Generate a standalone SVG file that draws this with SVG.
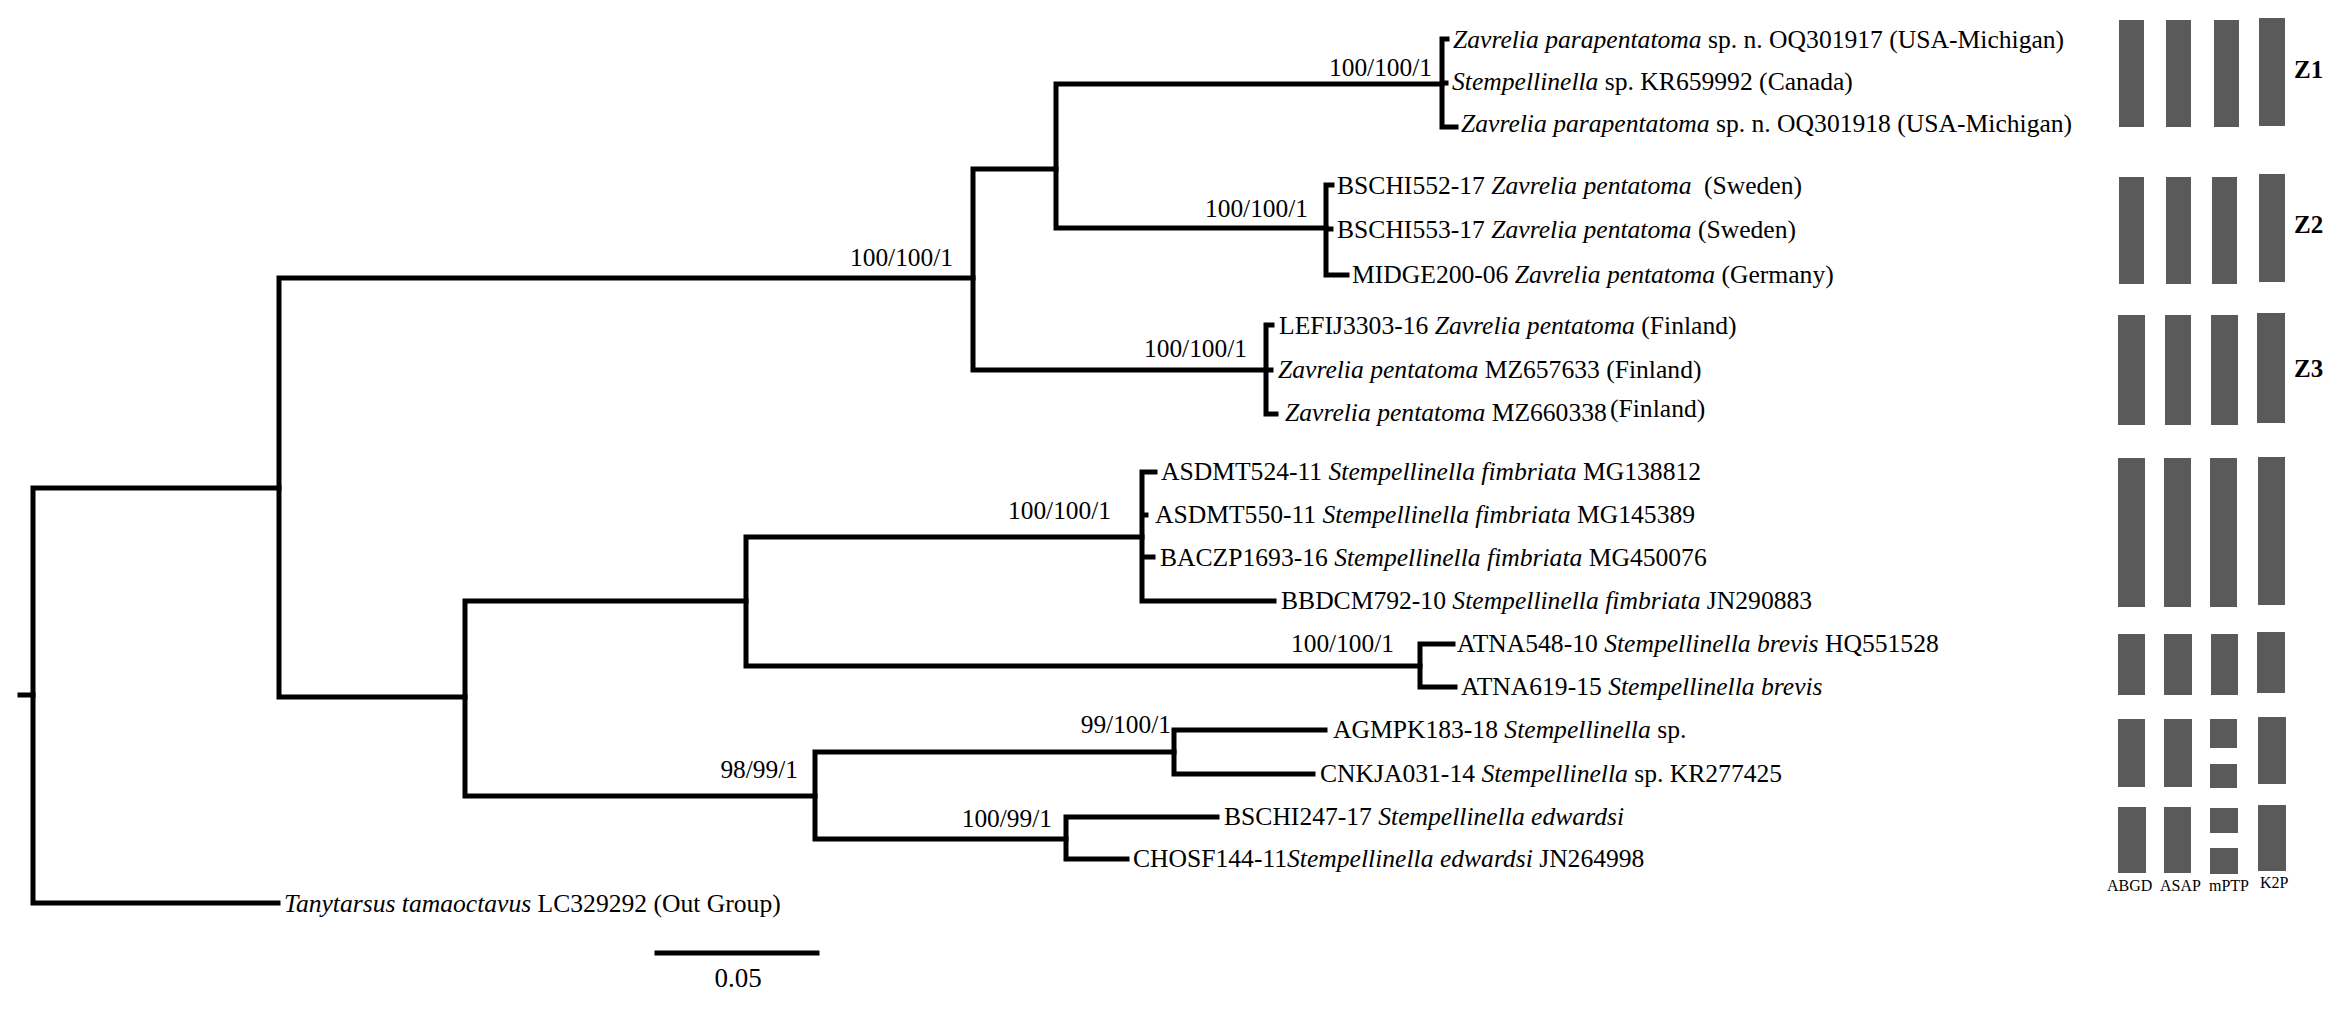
<svg xmlns="http://www.w3.org/2000/svg" width="2348" height="1010" viewBox="0 0 2348 1010">
<style>
.t{font-family:"Liberation Serif","Times New Roman",serif;font-size:25.6px;fill:#000}
.i{font-style:italic}
.s{font-family:"Liberation Serif","Times New Roman",serif;font-size:25.4px;fill:#000;text-anchor:end}
.z{font-family:"Liberation Serif","Times New Roman",serif;font-size:25px;font-weight:bold;fill:#000}
.m{font-family:"Liberation Serif","Times New Roman",serif;font-size:16px;fill:#000}
.e{fill:none;stroke:#000;stroke-width:5;stroke-linecap:square;stroke-linejoin:miter}
.bar{fill:#5a5a5a}
</style>
<rect width="2348" height="1010" fill="#fff"/>
<g id="connectors">
<path class="e" d="M20 695H33"/>
<path class="e" d="M279 488H33V903H278"/>
<path class="e" d="M973 278H279V697H465"/>
<path class="e" d="M1056 169H973V370H1266"/>
<path class="e" d="M1442 84H1056V228H1326"/>
<path class="e" d="M1447 39H1442V127H1456M1442 83H1446"/>
<path class="e" d="M1332 185H1326V275H1347M1326 229H1331"/>
<path class="e" d="M1272 325H1266V414H1276M1266 370H1271"/>
<path class="e" d="M746 601H465V796H815"/>
<path class="e" d="M1142 537H746V666H1420"/>
<path class="e" d="M1155 472H1142V601H1274M1142 515H1146M1142 557H1153"/>
<path class="e" d="M1453 644H1420V687H1455"/>
<path class="e" d="M1174 752H815V839H1066"/>
<path class="e" d="M1325 730H1174V774H1313"/>
<path class="e" d="M1217 817H1066V859H1127"/>
<path class="e" d="M657 953H817"/>
</g>
<g id="support">
<text class="s" x="953" y="266">100/100/1</text>
<text class="s" x="1432" y="76">100/100/1</text>
<text class="s" x="1308" y="217">100/100/1</text>
<text class="s" x="1247" y="357">100/100/1</text>
<text class="s" x="1111" y="519">100/100/1</text>
<text class="s" x="1394" y="652">100/100/1</text>
<text class="s" x="1171" y="733">99/100/1</text>
<text class="s" x="798" y="778">98/99/1</text>
<text class="s" x="1052" y="827">100/99/1</text>
</g>
<g id="leaf-z1a"><text class="t" x="1453" y="48"><tspan class="i">Zavrelia parapentatoma</tspan> sp. n. OQ301917 (USA-Michigan)</text></g>
<g id="leaf-z1b"><text class="t" x="1452" y="90"><tspan class="i">Stempellinella</tspan> sp. KR659992 (Canada)</text></g>
<g id="leaf-z1c"><text class="t" x="1461" y="132"><tspan class="i">Zavrelia parapentatoma</tspan> sp. n. OQ301918 (USA-Michigan)</text></g>
<g id="leaf-z2a"><text class="t" x="1337" y="194">BSCHI552-17 <tspan class="i">Zavrelia pentatoma</tspan><tspan dx="6"> (Sweden)</tspan></text></g>
<g id="leaf-z2b"><text class="t" x="1337" y="238">BSCHI553-17 <tspan class="i">Zavrelia pentatoma</tspan> (Sweden)</text></g>
<g id="leaf-z2c"><text class="t" x="1352" y="283">MIDGE200-06 <tspan class="i">Zavrelia pentatoma</tspan> (Germany)</text></g>
<g id="leaf-z3a"><text class="t" x="1279" y="334">LEFIJ3303-16 <tspan class="i">Zavrelia pentatoma</tspan> (Finland)</text></g>
<g id="leaf-z3b"><text class="t" x="1278" y="378"><tspan class="i">Zavrelia pentatoma</tspan> MZ657633 (Finland)</text></g>
<g id="leaf-z3c"><text class="t" x="1285" y="421"><tspan class="i">Zavrelia pentatoma</tspan> MZ660338</text><text class="t" x="1610" y="417">(Finland)</text></g>
<g id="leaf-f1"><text class="t" x="1161" y="480">ASDMT524-11 <tspan class="i">Stempellinella fimbriata</tspan> MG138812</text></g>
<g id="leaf-f2"><text class="t" x="1155" y="523">ASDMT550-11 <tspan class="i">Stempellinella fimbriata</tspan> MG145389</text></g>
<g id="leaf-f3"><text class="t" x="1160" y="566">BACZP1693-16 <tspan class="i">Stempellinella fimbriata</tspan> MG450076</text></g>
<g id="leaf-f4"><text class="t" x="1281" y="609">BBDCM792-10 <tspan class="i">Stempellinella fimbriata</tspan> JN290883</text></g>
<g id="leaf-b1"><text class="t" x="1457" y="652">ATNA548-10 <tspan class="i">Stempellinella brevis</tspan> HQ551528</text></g>
<g id="leaf-b2"><text class="t" x="1461" y="695">ATNA619-15 <tspan class="i">Stempellinella brevis</tspan></text></g>
<g id="leaf-s1"><text class="t" x="1333" y="738">AGMPK183-18 <tspan class="i">Stempellinella</tspan> sp.</text></g>
<g id="leaf-s2"><text class="t" x="1320" y="782">CNKJA031-14 <tspan class="i">Stempellinella</tspan> sp. KR277425</text></g>
<g id="leaf-e1"><text class="t" x="1224" y="825">BSCHI247-17 <tspan class="i">Stempellinella edwardsi</tspan></text></g>
<g id="leaf-e2"><text class="t" x="1133" y="867">CHOSF144-11<tspan class="i">Stempellinella edwardsi</tspan> JN264998</text></g>
<g id="leaf-out"><text class="t" x="284" y="912"><tspan class="i">Tanytarsus tamaoctavus</tspan> LC329292 (Out Group)</text></g>
<g id="scale"><text class="t" x="738" y="987" text-anchor="middle" style="font-size:27px">0.05</text></g>
<g id="bars">
<rect class="bar" x="2119" y="20" width="25" height="107"/>
<rect class="bar" x="2166" y="20" width="25" height="107"/>
<rect class="bar" x="2214" y="20" width="25" height="107"/>
<rect class="bar" x="2259" y="18" width="26" height="108"/>
<rect class="bar" x="2119" y="177" width="25" height="107"/>
<rect class="bar" x="2166" y="177" width="25" height="107"/>
<rect class="bar" x="2212" y="177" width="25" height="107"/>
<rect class="bar" x="2259" y="174" width="26" height="108"/>
<rect class="bar" x="2118" y="315" width="27" height="110"/>
<rect class="bar" x="2165" y="315" width="26" height="110"/>
<rect class="bar" x="2211" y="315" width="27" height="110"/>
<rect class="bar" x="2257" y="313" width="28" height="110"/>
<rect class="bar" x="2118" y="458" width="27" height="149"/>
<rect class="bar" x="2164" y="458" width="27" height="149"/>
<rect class="bar" x="2210" y="458" width="27" height="149"/>
<rect class="bar" x="2258" y="457" width="27" height="148"/>
<rect class="bar" x="2118" y="634" width="27" height="61"/>
<rect class="bar" x="2164" y="634" width="28" height="61"/>
<rect class="bar" x="2211" y="634" width="27" height="61"/>
<rect class="bar" x="2257" y="632" width="28" height="61"/>
<rect class="bar" x="2118" y="719" width="27" height="68"/>
<rect class="bar" x="2164" y="719" width="28" height="68"/>
<rect class="bar" x="2210" y="719" width="27" height="29"/>
<rect class="bar" x="2210" y="764" width="27" height="24"/>
<rect class="bar" x="2258" y="717" width="28" height="67"/>
<rect class="bar" x="2118" y="807" width="28" height="66"/>
<rect class="bar" x="2164" y="807" width="27" height="66"/>
<rect class="bar" x="2210" y="808" width="28" height="25"/>
<rect class="bar" x="2210" y="848" width="28" height="26"/>
<rect class="bar" x="2258" y="805" width="28" height="66"/>
</g>
<g id="group-labels">
<text class="z" x="2294" y="78">Z1</text>
<text class="z" x="2294" y="233">Z2</text>
<text class="z" x="2294" y="377">Z3</text>
</g>
<g id="method-labels">
<text class="m" x="2107" y="891">ABGD</text>
<text class="m" x="2160" y="891">ASAP</text>
<text class="m" x="2209" y="891">mPTP</text>
<text class="m" x="2260" y="888">K2P</text>
</g>
</svg>
